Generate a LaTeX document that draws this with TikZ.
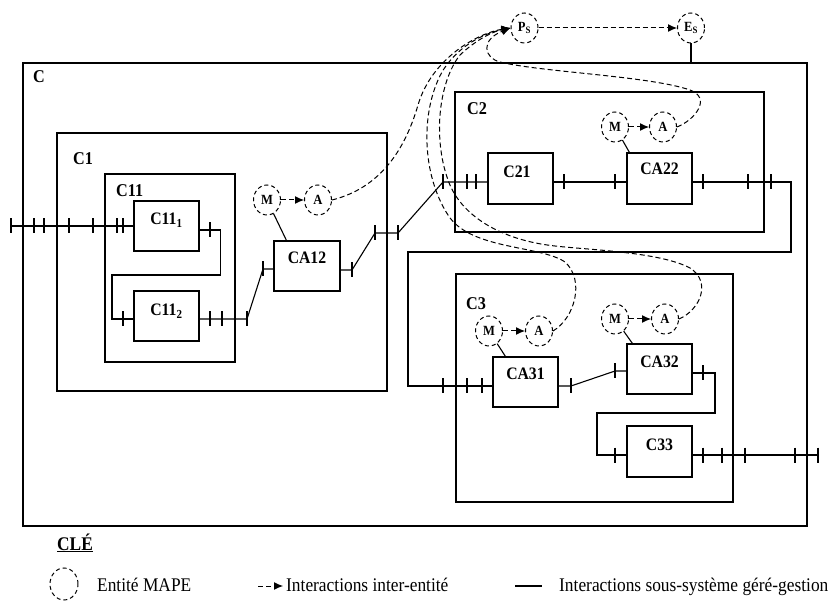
\documentclass[tikz,border=0pt]{standalone}
\usepackage{fontspec}
\setmainfont{Liberation Serif}[FakeStretch=0.9]
\usetikzlibrary{shapes.geometric,arrows.meta}
\begin{document}
\begin{tikzpicture}[x=1pt,y=-1pt,
  box/.style={draw, line width=1.1pt, inner sep=0pt},
  mape/.style={ellipse, draw, dash pattern=on 4pt off 3pt, line width=1pt,
     minimum width=27pt, minimum height=30pt, inner sep=0pt,
     font=\bfseries\fontsize{14}{14}\selectfont},
  blab/.style={font=\bfseries\fontsize{17.5}{17.5}\selectfont, inner sep=0pt, anchor=base},
  rlab/.style={font=\bfseries\fontsize{18}{18}\selectfont, inner sep=0pt, anchor=base west},
  conn/.style={line width=1.1pt},
  tickl/.style={line width=1.1pt},
  dconn/.style={dash pattern=on 5pt off 3pt, line width=1pt, -{Latex[length=9pt,width=8pt]}},
  legtext/.style={font=\fontsize{19.3}{19.3}\selectfont, inner sep=0pt, anchor=base west}
]
\useasboundingbox (0,0) rectangle (830,601);

% boxes
\node[box, minimum width=784pt, minimum height=463pt] (cbox) at (415,294.5) {};
\node[box, minimum width=330pt, minimum height=258pt] (c1box) at (222,262) {};
\node[box, minimum width=130pt, minimum height=188pt] (c11box) at (170,268) {};
\node[box, minimum width=65pt, minimum height=50pt] (c111) at (166.5,226) {};
\node[box, minimum width=65pt, minimum height=50pt] (c112) at (166.5,316) {};
\node[box, minimum width=66pt, minimum height=50pt] (ca12) at (307,266) {};
\node[box, minimum width=309pt, minimum height=140pt] (c2box) at (609.5,162) {};
\node[box, minimum width=65pt, minimum height=51pt] (c21) at (520.5,178.5) {};
\node[box, minimum width=65pt, minimum height=51pt] (ca22) at (659.5,178.5) {};
\node[box, minimum width=277pt, minimum height=228pt] (c3box) at (594.5,388) {};
\node[box, minimum width=65pt, minimum height=50pt] (ca31) at (525.5,382) {};
\node[box, minimum width=65pt, minimum height=50pt] (ca32) at (659.5,369) {};
\node[box, minimum width=65pt, minimum height=51pt] (c33) at (659.5,451.5) {};

% region labels
\node[rlab] (lc) at (33,83) {C};
\node[rlab] (lc1) at (73,165) {C1};
\node[rlab] (lc11) at (116,197) {C11};
\node[rlab] (lc2) at (467,115) {C2};
\node[rlab] (lc3) at (466,310) {C3};

% box labels
\node[blab] (l111) at (166.5,225) {C11\textsubscript{1}};
\node[blab] (l112) at (166.5,316) {C11\textsubscript{2}};
\node[blab] (lca12) at (307,264) {CA12};
\node[blab] (lc21) at (517,178) {C21};
\node[blab] (lca22) at (659.5,175) {CA22};
\node[blab] (lca31) at (525.5,380) {CA31};
\node[blab] (lca32) at (659.5,368) {CA32};
\node[blab] (lc33) at (659.5,450) {C33};

% MAPE entities
\node[mape] (m1) at (267,200) {M};
\node[mape] (a1) at (318,200) {A};
\node[mape] (m2) at (615,127) {M};
\node[mape] (a2) at (663,127) {A};
\node[mape] (m3) at (489,331) {M};
\node[mape] (a3) at (539,331) {A};
\node[mape] (m4) at (615,319) {M};
\node[mape] (a4) at (665,319) {A};
\node[mape] (ps) at (524.5,28) {P\textsubscript{S}};
\node[mape] (es) at (691,28) {E\textsubscript{S}};

% managed-subsystem connectors
\coordinate (in0) at (10,226);
\coordinate (out1) at (818,455);
\draw[conn] (in0) -- (c111.west);
\draw[conn] ([yshift=-4pt]c111.east) -- ++(21,0) |- (112,275) |- ([yshift=-3pt]c112.west);
\draw[conn] ([yshift=-3pt]c112.east) -- (247,319) -- (263,269) -- ([yshift=-3pt]ca12.west);
\draw[conn] ([yshift=-4pt]ca12.east) -- (352,270) -- (375,233) -- (398,233) -- (443,182) -- ([yshift=-3.5pt]c21.west);
\draw[conn] ([yshift=-3.5pt]c21.east) -- ([yshift=-3.5pt]ca22.west);
\draw[conn] ([yshift=-3.5pt]ca22.east) -- (791,182) -- (791,252) -- (408,252) -- (408,386) -- ([yshift=-4pt]ca31.west);
\draw[conn] ([yshift=-4pt]ca31.east) -- (571,386) -- (615,371) -- ([yshift=-2pt]ca32.west);
\draw[conn] ([yshift=-4pt]ca32.east) -- (715,373) -- (715,413) -- (597,413) -- (597,455) -- ([yshift=-3.5pt]c33.west);
\draw[conn] ([yshift=-3.5pt]c33.east) -- (out1);

% ticks
\foreach \x/\y in {11/226,34/226,44/226,69/226,93/226,117/226,123/226,
  210/230,123/319,210/319,222/319,247/319,263/269,352/270,375/233,398/233,
  443/182,467/182,476/182,564/182,615/182,703/182,748/182,771/182,
  443/386,467/386,482/386,571/386,615/371,703/373,615/455,
  703/455,722/455,745/455,795/455,818/455}
  \draw[tickl] (\x,\y-7.5) -- (\x,\y+7.5);

% management links
\draw[conn] (m1) -- ([xshift=13pt]ca12.north west);
\draw[conn] (m2) -- ([xshift=3pt]ca22.north west);
\draw[conn] (m3) -- ([xshift=13pt]ca31.north west);
\draw[conn] (m4) -- ([xshift=6pt]ca32.north west);
\draw[conn] (es.south) -- (es.south |- cbox.north);

% inter-entity interactions
\draw[dconn] (m1) -- (a1);
\draw[dconn] (m2) -- (a2);
\draw[dconn] (m3) -- (a3);
\draw[dconn] (m4) -- (a4);
\draw[dconn] (ps) -- (es);
\draw[dconn] (a1.east) .. controls (380,188) and (405,150) .. (418,105)
   .. controls (432,58) and (478,33) .. (ps.west);
\draw[dconn] (a3.east) .. controls (575,318) and (585,280) .. (565,262)
   .. controls (540,245) and (470,250) .. (448,215)
   .. controls (422,175) and (420,112) .. (442,72)
   .. controls (460,42) and (490,32) .. (ps.west);
\draw[dconn] (a4.east) .. controls (700,310) and (712,282) .. (690,268)
   .. controls (660,252) and (590,250) .. (555,246)
   .. controls (500,240) and (460,215) .. (448,180)
   .. controls (432,135) and (440,80) .. (460,55)
   .. controls (478,38) and (495,31) .. (ps.west);
\draw[dconn] (a2.east) .. controls (695,120) and (712,98) .. (690,90)
   .. controls (650,76) and (540,72) .. (500,62)
   .. controls (484,58) and (480,40) .. (ps.west);

% key
\node[font=\bfseries\fontsize{19.3}{19.3}\selectfont, inner sep=0pt, anchor=base west] (cle) at (57,550) {\underline{CLÉ}};
\node[mape, minimum width=28pt, minimum height=32pt] (legc) at (64,584) {};
\node[legtext] (t1) at (97,591) {Entité MAPE};
\coordinate (la1) at (258,586);
\coordinate (la2) at (283,586);
\draw[dconn] (la1) -- (la2);
\node[legtext] (t2) at (286,591) {Interactions inter-entité};
\coordinate (ll1) at (515,586);
\coordinate (ll2) at (542,586);
\draw[line width=2pt] (ll1) -- (ll2);
\node[legtext] (t3) at (559,591) {Interactions sous-système géré-gestion};
\end{tikzpicture}
\end{document}
